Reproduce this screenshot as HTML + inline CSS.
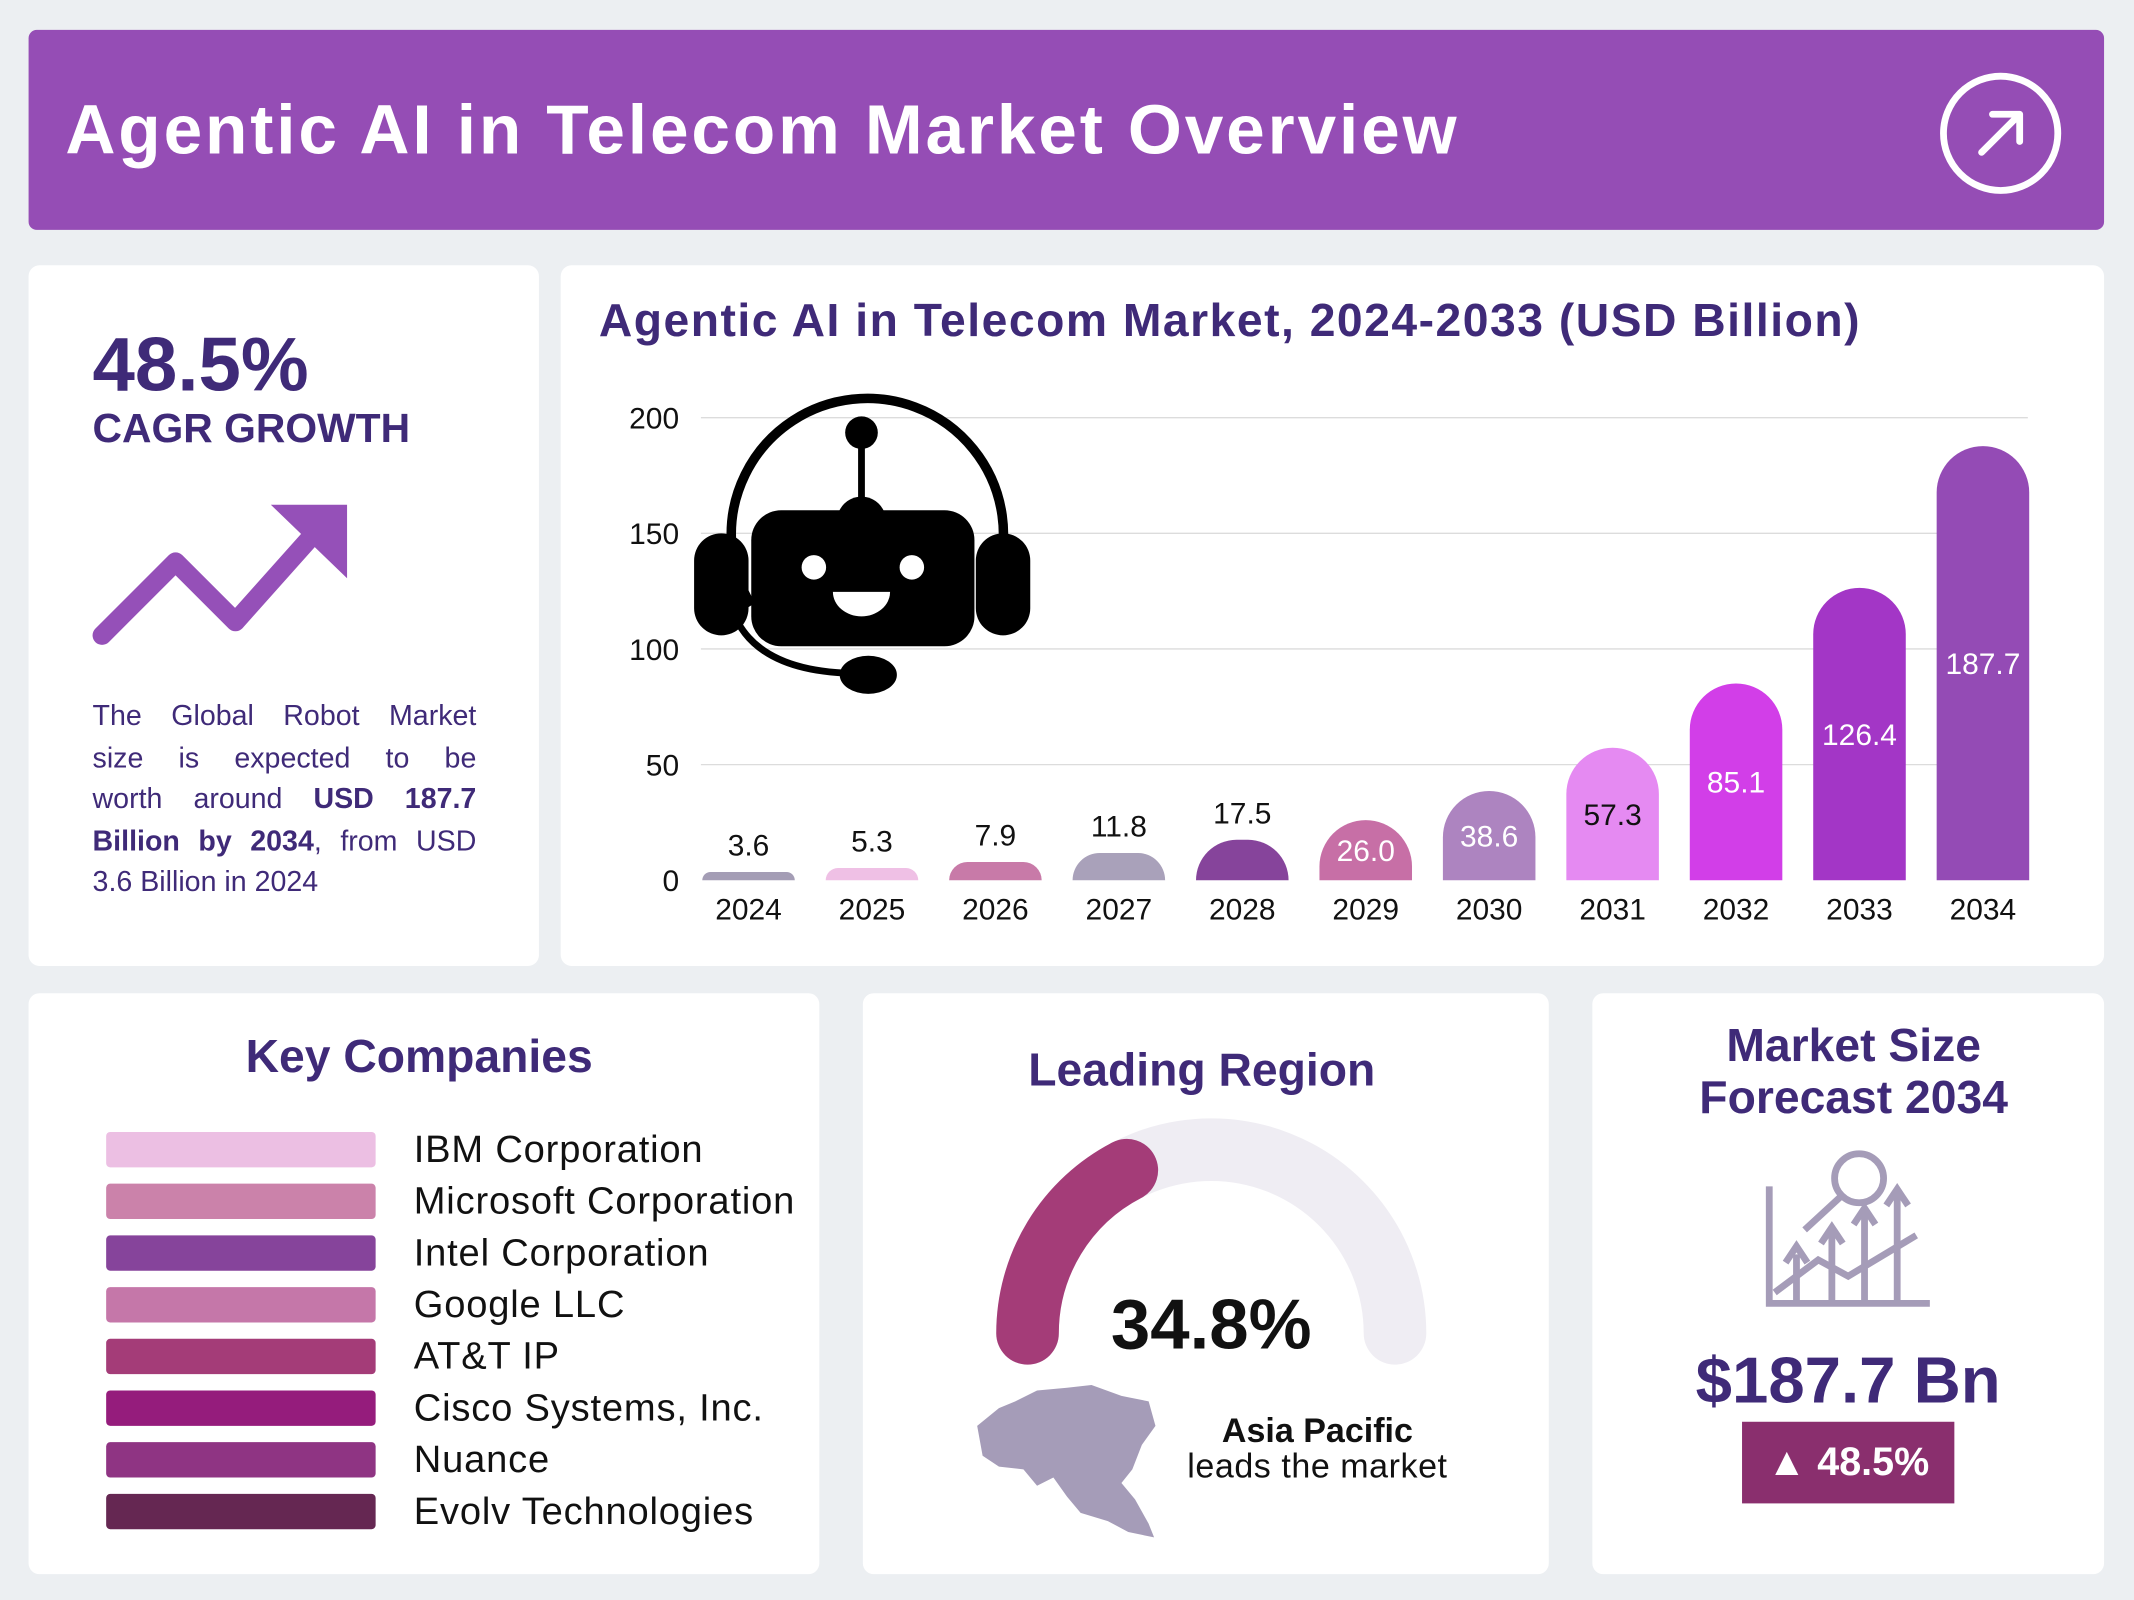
<!DOCTYPE html>
<html><head><meta charset="utf-8">
<style>
html,body{margin:0;padding:0;width:2134px;height:1600px;overflow:hidden;background:#eceff2;}
#wrap{position:absolute;left:0;top:0;width:1568px;height:1176px;transform-origin:0 0;transform:scale(1.36097,1.36054);font-family:"Liberation Sans",sans-serif;}
.card{position:absolute;background:#fff;border-radius:8px;}
.abs{position:absolute;}
.dp{color:#3f2a78;}
.jl{text-align:justify;text-align-last:justify;white-space:nowrap;height:30.5px;}
</style></head><body>
<div id="wrap">
  <div class="card" style="left:21px;top:22px;width:1525px;height:147px;background:#954db5;border-radius:6px;">
    <div class="abs" style="left:27px;top:44px;color:#fff;font-weight:bold;font-size:51px;letter-spacing:2.1px;">Agentic AI in Telecom Market Overview</div>
    <svg class="abs" style="left:1403px;top:30px" width="92" height="92" viewBox="0 0 92 92"><circle cx="46" cy="46" r="42" fill="none" stroke="#fff" stroke-width="5"/><path d="M32 60 L60 32 M40 32 H60 V52" fill="none" stroke="#fff" stroke-width="5" stroke-linecap="round" stroke-linejoin="round"/></svg>
  </div>

  <div class="card" style="left:21px;top:195px;width:375px;height:515px;">
    <div class="abs dp" style="left:47px;top:40px;font-size:56px;font-weight:bold;">48.5%</div>
    <div class="abs dp" style="left:47px;top:104px;font-size:30px;font-weight:bold;">CAGR GROWTH</div>
    <svg class="abs" style="left:40px;top:170px" width="210" height="120" viewBox="0 0 210 120"><path d="M14 102 L68 48 L112 92 L178 18" fill="none" stroke="#9550b8" stroke-width="14" stroke-linecap="round" stroke-linejoin="round"/><path d="M138 6 H194 V60 Z" fill="#9550b8"/></svg>
    <div class="abs dp" style="left:47px;top:317px;width:282px;font-size:21px;line-height:30.5px;">
      <div class="jl">The Global Robot Market</div>
      <div class="jl">size is expected to be</div>
      <div class="jl">worth around <b>USD 187.7</b></div>
      <div class="jl"><b>Billion by 2034</b>, from USD</div>
      <div>3.6 Billion in 2024</div>
    </div>
  </div>

  <div class="card" style="left:412px;top:195px;width:1134px;height:515px;">
    <div class="abs dp" style="left:28px;top:22px;font-size:34px;font-weight:bold;letter-spacing:1.1px;">Agentic AI in Telecom Market, 2024-2033 (USD Billion)</div>
  </div>
  <svg id="chart" class="abs" style="left:412px;top:195px" width="1134" height="515"></svg>

  <div class="card" style="left:21px;top:730px;width:581px;height:427px;">
    <div class="abs dp" style="left:0;width:574px;text-align:center;top:28px;font-size:34px;font-weight:bold;">Key Companies</div>
  </div>
  <div id="companies"></div>

  <div class="card" style="left:634px;top:730px;width:504px;height:427px;">
    <div class="abs dp" style="left:0;width:498px;text-align:center;top:38px;font-size:34px;font-weight:bold;">Leading Region</div>
    <svg class="abs" style="left:0;top:0" width="504" height="427">
      <path d="M121 250 A135 135 0 0 1 391 250" fill="none" stroke="#efedf3" stroke-width="46" stroke-linecap="round"/>
      <path id="gaugeFill" fill="none" stroke="#a43c78" stroke-width="46" stroke-linecap="round"/>
      <path d="M84 318 L100 305 L112 300 L128 292 L150 290 L168 288 L190 296 L210 300 L215 318 L205 332 L198 350 L190 360 L200 372 L210 390 L214 400 L195 396 L180 388 L160 382 L150 370 L140 356 L128 362 L118 350 L100 348 L88 340 Z" fill="#a59cb8"/>
    </svg>
    <div class="abs" style="left:156px;top:214px;width:200px;text-align:center;font-size:52px;font-weight:bold;color:#111;">34.8%</div>
    <div class="abs" style="left:214px;top:308px;width:240px;text-align:center;font-size:25px;font-weight:bold;color:#111;">Asia Pacific</div>
    <div class="abs" style="left:214px;top:334px;width:240px;text-align:center;font-size:25px;color:#111;letter-spacing:0.4px;">leads the market</div>
  </div>

  <div class="card" style="left:1170px;top:730px;width:376px;height:427px;">
    <div class="abs dp" style="left:0;width:384px;text-align:center;top:20px;font-size:34px;font-weight:bold;line-height:38px;">Market Size<br>Forecast 2034</div>
    <svg class="abs" style="left:126px;top:112px" width="124" height="120" viewBox="0 0 124 120" fill="none" stroke="#a59cb8" stroke-width="5">
      <path d="M4 30 V116 H122"/><circle cx="70" cy="24" r="18"/><path d="M56 38 L30 62"/>
      <path d="M24 114 V80 M16 86 L24 74 L32 86 M50 114 V64 M42 72 L50 60 L58 72 M74 114 V50 M66 58 L74 46 L82 58 M98 114 V36 M90 44 L98 32 L106 44"/>
      <path d="M8 108 L40 84 L62 96 L112 66"/>
    </svg>
    <div class="abs dp" style="left:0;width:376px;text-align:center;top:258px;font-size:48px;font-weight:bold;">$187.7 Bn</div>
    <div class="abs" style="left:110px;top:315px;width:156px;height:60px;background:#8a2f6e;color:#fff;font-size:29px;font-weight:bold;text-align:center;line-height:60px;">▲ 48.5%</div>
  </div>
</div>
<script>
const years=["2024","2025","2026","2027","2028","2029","2030","2031","2032","2033","2034"];
const values=[3.6,5.3,7.9,11.8,17.5,26.0,38.6,57.3,85.1,126.4,187.7];
const valueLabels=["3.6","5.3","7.9","11.8","17.5","26.0","38.6","57.3","85.1","126.4","187.7"];
const barColors=["#a49db5","#efc0e5","#c87aa8","#a9a1ba","#86449b","#c76fa6","#ad84c0","#e58af2","#d23ee8","#a336c6","#944bb5"];
const labelColors=["#111","#111","#111","#111","#111","#fff","#fff","#111","#fff","#fff","#fff"];
const yTicks=[0,50,100,150,200];
const companies=["IBM Corporation","Microsoft Corporation","Intel Corporation","Google LLC","AT&T IP","Cisco Systems, Inc.","Nuance","Evolv Technologies"];
const companyColors=["#ecbfe3","#cb82aa","#86449b","#c577a9","#a43c78","#951c7c","#8f3483","#652752"];
const regionShare=34.8;

const NS="http://www.w3.org/2000/svg";
const svg=document.getElementById('chart');
const y0=452,yScale=340/200;
const yPos=v=>y0-v*yScale;
const xPos=i=>138+i*90.7;
function mk(t,a){const e=document.createElementNS(NS,t);for(const k in a)e.setAttribute(k,a[k]);svg.appendChild(e);return e;}
yTicks.forEach(t=>{
  if(t>0){const g=mk('line',{x1:103,x2:1078,y1:yPos(t),y2:yPos(t),stroke:'#dcdcdc','stroke-width':1});
  
  }
  const l=mk('text',{x:87,y:yPos(t)+8,'text-anchor':'end','font-size':22,fill:'#111','font-family':'Liberation Sans'});
  l.textContent=t;
  
  
});
const rb=document.createElementNS(NS,'g');
rb.innerHTML='<line x1="221" y1="123" x2="221" y2="175" stroke="#000" stroke-width="5"/><circle cx="221" cy="123" r="12" fill="#000"/><path d="M140 250 A100 100 0 1 1 320 230" fill="none" stroke="#000" stroke-width="7"/><path d="M125 250 Q140 300 220 300" fill="none" stroke="#000" stroke-width="5"/><ellipse cx="226" cy="301" rx="21" ry="14" fill="#000"/><rect x="98" y="197" width="40" height="75" rx="20" fill="#000"/><rect x="305" y="197" width="40" height="75" rx="20" fill="#000"/><circle cx="221" cy="188" r="18" fill="#000"/><rect x="140" y="180" width="164" height="100" rx="22" fill="#000"/><circle cx="186" cy="222" r="9" fill="#fff"/><circle cx="258" cy="222" r="9" fill="#fff"/><path d="M200 240 H242 A21 18 0 0 1 200 240 Z" fill="#fff"/>';


svg.appendChild(rb);
values.forEach((v,i)=>{
  const x=xPos(i),w=68,top=yPos(v),h=y0-top,r=Math.min(w/2,h);
  const d=`M${x-w/2} ${y0} V${top+r} A${r} ${r} 0 0 1 ${x-w/2+r} ${top} H${x+w/2-r} A${r} ${r} 0 0 1 ${x+w/2} ${top+r} V${y0} Z`;
  const b=mk('path',{d:d,fill:barColors[i]});
  
  
  const inside=v>=20;
  const ly=inside?y0-h/2+8:top-12;
  const t=mk('text',{x:x,y:ly,'text-anchor':'middle','font-size':22,fill:labelColors[i],'font-family':'Liberation Sans'});
  t.textContent=valueLabels[i];
  
  
  const xl=mk('text',{x:x,y:y0+29,'text-anchor':'middle','font-size':22,fill:'#111','font-family':'Liberation Sans'});
  xl.textContent=years[i];
  
  
});
const wrap=document.getElementById('wrap');
companies.forEach((c,i)=>{
  const y=832+i*38;
  const s=document.createElement('div');
  s.className='abs';s.style.cssText=`left:78px;top:${y}px;width:198px;height:26px;border-radius:3px;background:${companyColors[i]}`;
  
  
  wrap.appendChild(s);
  const t=document.createElement('div');
  t.className='abs';t.style.cssText=`left:304px;top:${y-3}px;font-size:28px;color:#111;white-space:nowrap;letter-spacing:0.6px`;
  t.textContent=c;
  
  
  wrap.appendChild(t);
});
const a=Math.PI*(1-regionShare/100),cx=256,cy=250,R=135;
document.getElementById('gaugeFill').setAttribute('d',`M${cx-R} ${cy} A${R} ${R} 0 0 1 ${cx+R*Math.cos(a)} ${cy-R*Math.sin(a)}`);
</script>
</body></html>
